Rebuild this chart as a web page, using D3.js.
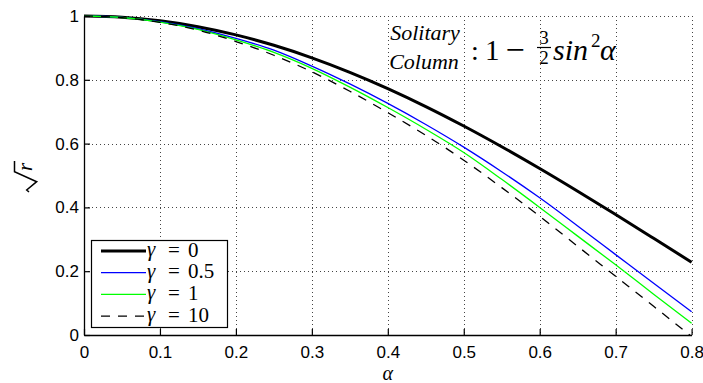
<!DOCTYPE html>
<html>
<head>
<meta charset="utf-8">
<script src="https://cdn.jsdelivr.net/npm/d3@7"></script>
<style>
  html, body { margin: 0; padding: 0; background: #fff; }
  svg { display: block; }
</style>
</head>
<body>
<svg id="chart" width="703" height="383"></svg>
<script>
// chart values
var alpha = [0, 0.05, 0.1, 0.15, 0.2, 0.25, 0.3, 0.35, 0.4, 0.45, 0.5, 0.55, 0.6, 0.65, 0.7, 0.75, 0.8];
var gamma0  = [1, .9963, .9850, .9665, .9408, .9082, .8690, .8236, .7725, .7162, .6552, .5902, .5218, .4506, .3775, .3031, .2281];
var gamma05 = [1, .9955, .982, .960, .930, .893, .843, .787, .726, .660, .589, .512, .430, .342, .252, .162, .073];
var gamma1  = [1, .9953, .981, .958, .925, .886, .836, .777, .713, .645, .572, .488, .400, .310, .220, .128, .037];
var gamma10 = [1, .995, .980, .956, .920, .877, .825, .764, .697, .626, .548, .462, .372, .278, .184, .090, -.005];

var seriesNames = ["0", "0.5", "1", "10"];
var seriesColors = ["#000000", "#0000ff", "#00ff00", "#000000"];

var xTicks = [0, 0.1, 0.2, 0.3, 0.4, 0.5, 0.6, 0.7, 0.8];
var xTickLabels = ["0", "0.1", "0.2", "0.3", "0.4", "0.5", "0.6", "0.7", "0.8"];
var yTicks = [0, 0.2, 0.4, 0.6, 0.8, 1];
var yTickLabels = ["0", "0.2", "0.4", "0.6", "0.8", "1"];

var SANS = "'Liberation Sans', Arial, Helvetica, sans-serif";
var SERIF = "'Liberation Serif', 'Times New Roman', serif";

var svg = d3.select("#chart");

var pLeft = 84, pRight = 691.6, pTop = 16, pBottom = 335;
var x = d3.scaleLinear().domain([0, 0.8]).range([pLeft, pRight]);
var y = d3.scaleLinear().domain([0, 1]).range([pBottom, pTop]);

// dotted grid
var grid = svg.append("g").attr("stroke", "#444").attr("stroke-width", 1).attr("stroke-dasharray", "1,3");
grid.selectAll("line.gx").data(xTicks.slice(1)).enter().append("line")
  .attr("x1", function(d){ return Math.round(x(d)) + 0.5; })
  .attr("x2", function(d){ return Math.round(x(d)) + 0.5; })
  .attr("y1", pTop).attr("y2", pBottom);
grid.selectAll("line.gy").data(yTicks.slice(1)).enter().append("line")
  .attr("y1", function(d){ return Math.round(y(d)) + 0.5; })
  .attr("y2", function(d){ return Math.round(y(d)) + 0.5; })
  .attr("x1", pLeft).attr("x2", pRight);

svg.append("clipPath").attr("id", "plotclip").append("rect")
  .attr("x", pLeft).attr("y", pTop - 3).attr("width", pRight - pLeft + 2).attr("height", pBottom - pTop + 3);

var series = [gamma0, gamma05, gamma1, gamma10];
var widths = [3, 1.3, 1.3, 1.3];
var dashes = [null, null, null, "9,8"];

var line = d3.line()
  .x(function(d, i){ return x(alpha[i]); })
  .y(function(d){ return y(d); })
  .curve(d3.curveMonotoneX);

var curves = svg.append("g").attr("clip-path", "url(#plotclip)");
series.forEach(function(s, k){
  curves.append("path")
    .attr("d", line(s))
    .attr("fill", "none")
    .attr("stroke", seriesColors[k])
    .attr("stroke-width", widths[k])
    .attr("stroke-dasharray", dashes[k]);
});

// axes, ticks pointing inward
var xAxis = d3.axisBottom(x).tickValues(xTicks)
  .tickFormat(function(d, i){ return xTickLabels[i]; })
  .tickSizeInner(-6).tickSizeOuter(0).tickPadding(11);
var yAxis = d3.axisLeft(y).tickValues(yTicks)
  .tickFormat(function(d, i){ return yTickLabels[i]; })
  .tickSizeInner(-6).tickSizeOuter(0).tickPadding(5);

var gx = svg.append("g").attr("transform", "translate(0," + pBottom + ")").call(xAxis);
var gy = svg.append("g").attr("transform", "translate(" + pLeft + ",0)").call(yAxis);
[gx, gy].forEach(function(g){
  g.attr("font-family", SANS).attr("font-size", 17);
  g.select(".domain").attr("stroke", "#000").attr("stroke-width", 1.3);
  g.selectAll(".tick line").attr("stroke", "#000").attr("stroke-width", 1.2);
  g.selectAll(".tick text").attr("fill", "#000");
});

function tex(parent, x0, y0, size, str, italic, anchor){
  return parent.append("text")
    .attr("x", x0).attr("y", y0)
    .attr("font-family", SERIF).attr("font-size", size)
    .attr("font-style", italic ? "italic" : "normal")
    .attr("text-anchor", anchor || "start")
    .attr("fill", "#000")
    .text(str);
}

// axis labels
tex(svg, (pLeft + pRight) / 2, 380, 20, "α", true, "middle");

var ylab = svg.append("g").attr("transform", "translate(35,176) rotate(-90)");
ylab.append("path")
  .attr("d", "M -16,-6 L -14,-8.3 L -5.7,1.7 L 4.3,-20.5 L 15,-20.5")
  .attr("fill", "none").attr("stroke", "#000").attr("stroke-width", 1.5);
tex(ylab, 5, -3, 21, "r", true);

// legend
var lg = svg.append("g");
lg.append("rect").attr("x", 91.5).attr("y", 240.5).attr("width", 136).attr("height", 87)
  .attr("fill", "#fff").attr("stroke", "#000").attr("stroke-width", 1.2);
seriesNames.forEach(function(name, k){
  var ly = 251 + k * 21.7;
  lg.append("line").attr("x1", 101).attr("x2", 146).attr("y1", ly).attr("y2", ly)
    .attr("stroke", seriesColors[k]).attr("stroke-width", widths[k])
    .attr("stroke-dasharray", dashes[k]);
  tex(lg, 147, ly + 5, 21, "γ", true);
  tex(lg, 174, ly + 5.5, 21, "=", false, "middle");
  tex(lg, 188, ly + 5.5, 21, name, false);
});

// annotation
var an = svg.append("g");
tex(an, 425, 40, 22, "Solitary", true, "middle");
tex(an, 424, 69, 22, "Column", true, "middle");
tex(an, 471, 60, 28, ":", false);
tex(an, 485, 60, 29, "1", false);
tex(an, 515, 61, 34, "−", false, "middle");
tex(an, 544, 44, 19, "3", false, "middle");
an.append("line").attr("x1", 537).attr("x2", 551).attr("y1", 47.5).attr("y2", 47.5)
  .attr("stroke", "#000").attr("stroke-width", 1.2);
tex(an, 544, 64, 19, "2", false, "middle");
tex(an, 553, 60, 30, "sin", true);
tex(an, 591, 47, 19, "2", false);
tex(an, 600, 60, 30, "α", true);
</script>
</body>
</html>
